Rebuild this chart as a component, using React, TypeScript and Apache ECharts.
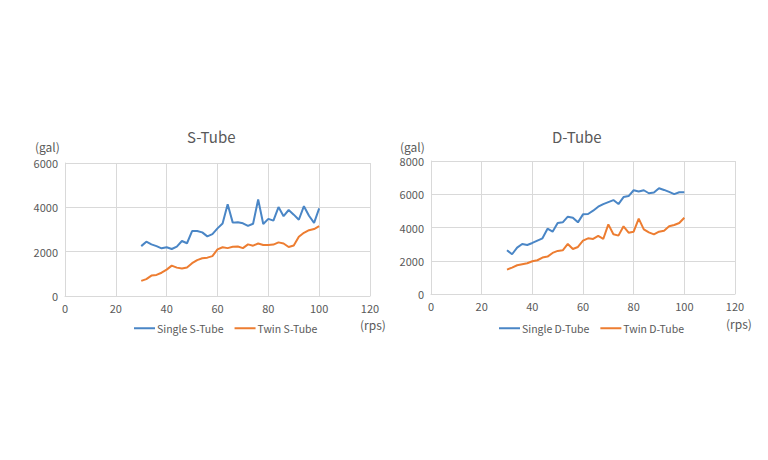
import React, { useEffect, useRef } from 'react';
import * as echarts from 'echarts';

const rps = [30, 32, 34, 36, 38, 40, 42, 44, 46, 48, 50, 52, 54, 56, 58, 60, 62, 64, 66, 68, 70, 72, 74, 76, 78, 80, 82, 84, 86, 88, 90, 92, 94, 96, 98, 100];

const singleS = [2250, 2450, 2330, 2250, 2150, 2200, 2120, 2230, 2480, 2380, 2930, 2930, 2870, 2690, 2790, 3050, 3270, 4140, 3310, 3330, 3280, 3160, 3260, 4350, 3250, 3480, 3400, 4010, 3600, 3880, 3670, 3440, 4050, 3620, 3300, 3950];
const twinS = [680, 760, 920, 950, 1050, 1190, 1370, 1280, 1240, 1290, 1480, 1620, 1700, 1730, 1800, 2100, 2200, 2160, 2220, 2230, 2160, 2330, 2270, 2370, 2300, 2300, 2320, 2420, 2370, 2210, 2280, 2670, 2850, 2970, 3020, 3150];

const singleD = [2630, 2390, 2790, 3010, 2950, 3070, 3210, 3350, 3930, 3750, 4270, 4310, 4650, 4590, 4310, 4790, 4810, 5010, 5250, 5410, 5530, 5650, 5410, 5830, 5890, 6240, 6160, 6240, 6060, 6100, 6360, 6260, 6140, 6010, 6120, 6120];
const twinD = [1470, 1590, 1730, 1790, 1850, 1970, 2030, 2190, 2250, 2470, 2590, 2630, 3010, 2710, 2830, 3210, 3350, 3310, 3490, 3310, 4190, 3590, 3510, 4070, 3690, 3750, 4530, 3890, 3710, 3590, 3750, 3810, 4070, 4150, 4270, 4590];

const xTicks = { min: 0, max: 120, interval: 20 };
const yTicksS = { min: 0, max: 6000, interval: 2000 };
const yTicksD = { min: 0, max: 8000, interval: 2000 };

const BLUE = '#4a86c6';
const ORANGE = '#ed7d31';
const TEXT = '#595959';
const GRID = '#d9d9d9';
const FONT = '"Noto Sans CJK KR", "Noto Sans", sans-serif';

const pairs = (vals: number[]) => rps.map((r, i) => [r, vals[i]]);

const App: React.FC = () => {
  const chartRef = useRef<HTMLDivElement>(null);

  useEffect(() => {
    const chart = echarts.init(chartRef.current!, undefined, { renderer: 'svg' });

    const xAxis = (gridIndex: number) => ({
      type: 'value',
      gridIndex,
      ...xTicks,
      axisLine: { show: true, lineStyle: { color: GRID } },
      axisTick: { show: false },
      axisLabel: { color: TEXT, fontSize: 11, lineHeight: 11, fontFamily: FONT, margin: 6 },
      splitLine: { show: true, lineStyle: { color: GRID } }
    });

    const yAxis = (gridIndex: number, ticks: typeof yTicksS) => ({
      type: 'value',
      gridIndex,
      ...ticks,
      axisLine: { show: true, lineStyle: { color: GRID } },
      axisTick: { show: false },
      axisLabel: { color: TEXT, fontSize: 11, fontFamily: FONT, margin: 7, formatter: (v: number) => String(v) },
      splitLine: { show: true, lineStyle: { color: GRID } }
    });

    const line = (name: string, vals: number[], color: string, idx: number) => ({
      name,
      type: 'line',
      xAxisIndex: idx,
      yAxisIndex: idx,
      data: pairs(vals),
      symbol: 'none',
      lineStyle: { color, width: 2 },
      itemStyle: { color }
    });

    const legend = (left: number, names: string[]) => ({
      left,
      top: 318,
      data: names,
      icon: 'rect',
      itemWidth: 21,
      itemHeight: 2,
      itemGap: 11,
      textStyle: { color: TEXT, fontSize: 10.5, fontFamily: FONT, padding: [0, 0, 0, -3] }
    });

    const label = (text: string, x: number, y: number) => ({
      type: 'text',
      left: x,
      top: y,
      style: { text, fill: TEXT, fontSize: 12, fontFamily: FONT }
    });

    chart.setOption({
      animation: false,
      title: [
        { text: 'S-Tube', left: 187, top: 129, padding: 0, textStyle: { color: TEXT, fontSize: 15, fontWeight: 'normal', fontFamily: FONT } },
        { text: 'D-Tube', left: 552, top: 129, padding: 0, textStyle: { color: TEXT, fontSize: 15, fontWeight: 'normal', fontFamily: FONT } }
      ],
      legend: [
        legend(129, ['Single S-Tube', 'Twin S-Tube']),
        legend(494, ['Single D-Tube', 'Twin D-Tube'])
      ],
      grid: [
        { left: 65, top: 163, width: 305, height: 133 },
        { left: 431, top: 161, width: 304, height: 133 }
      ],
      xAxis: [xAxis(0), xAxis(1)],
      yAxis: [yAxis(0, yTicksS), yAxis(1, yTicksD)],
      graphic: [
        label('(gal)', 35, 140),
        label('(rps)', 360, 318),
        label('(gal)', 400, 140),
        label('(rps)', 726, 317)
      ],
      series: [
        line('Single S-Tube', singleS, BLUE, 0),
        line('Twin S-Tube', twinS, ORANGE, 0),
        line('Single D-Tube', singleD, BLUE, 1),
        line('Twin D-Tube', twinD, ORANGE, 1)
      ]
    });

    return () => {
      chart.dispose();
    };
  }, []);

  return (
    <div
      ref={chartRef}
      style={{ position: 'fixed', left: 0, top: 0, width: '768px', height: '460px', background: '#fff' }}
    />
  );
};

export default App;
